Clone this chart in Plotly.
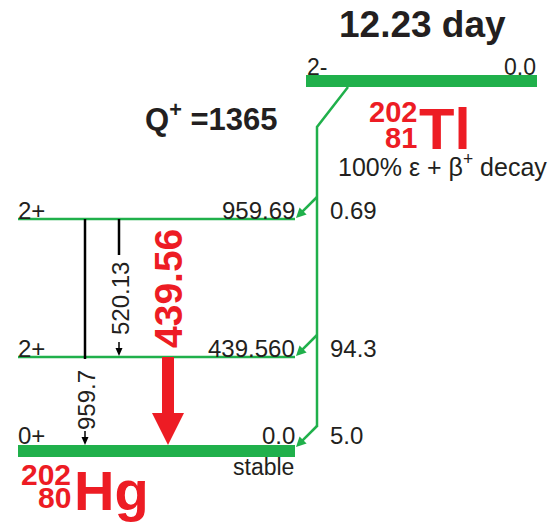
import math
import plotly.graph_objects as go

# ---------------- data ----------------
parent_nuclide = ("202", "81", "Tl")
daughter_nuclide = ("202", "80", "Hg")
half_life = "12.23 day"
q_value = 1365
decay_mode = "100% ε + β<sup>+</sup> decay"
parent_spin = "2-"
parent_energy = "0.0"

level_energy = [959.69, 439.560, 0.0]
level_label = ["959.69", "439.560", "0.0"]
level_spin = ["2+", "2+", "0+"]
feed_percent = ["0.69", "94.3", "5.0"]

gamma_energy = ["959.7", "520.13", "439.56"]
gamma_from = [0, 0, 1]   # index into levels
gamma_to = [2, 1, 2]
gamma_strong = [False, False, True]

# ---------------- layout of the scheme (pixel space) ----------------
W, H = 555, 523
GREEN = "#20b04b"
RED = "#ed1c24"
INK = "#231f20"
FONT = "Liberation Sans, Arial, sans-serif"

level_y = [219, 357, 451]
level_x0, level_x1 = 18, 295
parent_y, parent_x0, parent_x1 = 81, 306, 537
feed_x = 317
feed_start = (348, 87)
feed_knee_y = 127
feed_branch_dy = 21
gamma_x = [85, 119, 168]
gamma_label_y = [400, 299, 289]
gamma_label_len = [58, 76, 0]

shapes = []
ann = []

def text(x, y, s, size, color=INK, bold=False, xa="left", ya="middle", angle=0):
    ann.append(dict(x=x, y=y, xref="x", yref="y", text=(f"<b>{s}</b>" if bold else s),
                    showarrow=False, xanchor=xa, yanchor=ya, textangle=angle,
                    font=dict(family=FONT, size=size, color=color), borderpad=0))

def arrow(x0, y0, x1, y1, color, width, head_len, head_half):
    dx, dy = x1 - x0, y1 - y0
    L = math.hypot(dx, dy)
    ux, uy = dx / L, dy / L
    bx, by = x1 - ux * head_len, y1 - uy * head_len
    px, py = -uy * head_half, ux * head_half
    shapes.append(dict(type="line", x0=x0, y0=y0, x1=bx + ux, y1=by + uy,
                       line=dict(color=color, width=width)))
    p = f"M{x1},{y1} L{bx + px},{by + py} L{bx - px},{by - py} Z"
    shapes.append(dict(type="path", path=p, fillcolor=color, line=dict(width=0)))

# parent level
shapes.append(dict(type="line", x0=parent_x0, x1=parent_x1, y0=parent_y, y1=parent_y,
                   line=dict(color=GREEN, width=12)))
text(parent_x0, parent_y - 14, parent_spin, 23)
text(parent_x1, parent_y - 14, parent_energy, 23, xa="right")
text(422, 24, half_life, 37, bold=True, xa="center")

# daughter levels
for i, (e, lab, sp) in enumerate(zip(level_energy, level_label, level_spin)):
    y = level_y[i]
    w = 12 if e == 0.0 else 2.5
    shapes.append(dict(type="line", x0=level_x0, x1=level_x1, y0=y, y1=y,
                       line=dict(color=GREEN, width=w)))
    off = 16 if e == 0.0 else 9
    text(level_x0 - 1, y - off, sp, 24)
    text(level_x1 + 1, y - off, lab, 24, xa="right")
    text(329, y - off, feed_percent[i], 24)

text(level_x1, 467, "stable", 23, xa="right")

# feeding line
last_y = level_y[-1] - feed_branch_dy - 3
path = f"M{feed_start[0]},{feed_start[1]} L{feed_x},{feed_knee_y} L{feed_x},{last_y}"
shapes.append(dict(type="path", path=path, line=dict(color=GREEN, width=2.5)))
for i, y in enumerate(level_y):
    y_end = y - (4 if level_energy[i] == 0.0 else 1)
    arrow(feed_x, y_end - feed_branch_dy, level_x1 + 1, y_end, GREEN, 2.5, 10, 5)

# gamma transitions
for k, (eg, fi, ti) in enumerate(zip(gamma_energy, gamma_from, gamma_to)):
    x = gamma_x[k]
    y0 = level_y[fi]
    y1 = level_y[ti] - (6 if level_energy[ti] == 0.0 else 1)
    if gamma_strong[k]:
        head_y = y1 - 32
        p = (f"M{x-6},{y0} L{x+6},{y0} L{x+6},{head_y} L{x+16},{head_y} "
             f"L{x},{y1} L{x-16},{head_y} L{x-6},{head_y} Z")
        shapes.append(dict(type="path", path=p, fillcolor=RED, line=dict(width=0)))
        text(x, gamma_label_y[k], eg, 39, color=RED, bold=True, xa="center", angle=-90)
    else:
        ly = gamma_label_y[k]
        half = gamma_label_len[k] / 2
        top_end = min(ly - half - 6, y0 + 140)
        shapes.append(dict(type="line", x0=x, x1=x, y0=y0, y1=top_end,
                           line=dict(color="black", width=2.5)))
        arrow(x, y1 - 14, x, y1, "black", 1.5, 8, 3.5)
        text(x + 1, ly, eg, 24, xa="center", angle=-90)

# Q value and nuclide names
text(144, 117, f"Q<sup>+</sup> ={q_value}", 31, bold=True)
text(418, 112, parent_nuclide[0], 29, color=RED, bold=True, xa="right")
text(418, 138, parent_nuclide[1], 29, color=RED, bold=True, xa="right")
text(418, 128, parent_nuclide[2], 58, color=RED, bold=True)
text(337, 165, decay_mode, 25)

text(72, 474, daughter_nuclide[0], 30, color=RED, bold=True, xa="right")
text(72, 497, daughter_nuclide[1], 30, color=RED, bold=True, xa="right")
text(73, 490, daughter_nuclide[2], 56, color=RED, bold=True)

fig = go.Figure()
fig.update_layout(
    width=W, height=H, margin=dict(l=0, r=0, t=0, b=0),
    paper_bgcolor="white", plot_bgcolor="white",
    xaxis=dict(range=[0, W], visible=False, fixedrange=True),
    yaxis=dict(range=[H, 0], visible=False, fixedrange=True),
    shapes=shapes, annotations=ann, showlegend=False,
)
fig.write_html("out.html", config={"displayModeBar": False},
               post_script="document.body.style.margin='0';document.body.style.overflow='hidden';")
